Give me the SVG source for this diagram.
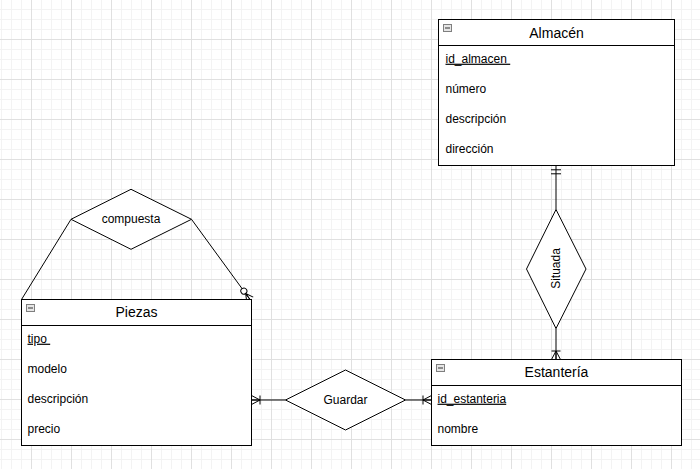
<svg xmlns="http://www.w3.org/2000/svg" width="700" height="469" viewBox="0 0 700 469">
  <defs>
    <pattern id="grid" x="0" y="0" width="40" height="40" patternUnits="userSpaceOnUse">
      <path d="M1.5,0V40M11.5,0V40M21.5,0V40M0,9.5H40M0,19.5H40M0,29.5H40" stroke="#f3f3f3" stroke-width="1" fill="none"/>
      <path d="M31.5,0V40M0,39.5H40" stroke="#e0e0e0" stroke-width="1" fill="none"/>
    </pattern>
    <marker id="oneToMany" markerUnits="userSpaceOnUse" orient="auto" refX="0" refY="0" markerWidth="20" markerHeight="20" overflow="visible">
      <path d="M-8.5,0L0,-4.5M-8.5,0L0,4.5M-8.5,0L0,0M-8.5,-4.5L-8.5,4.5" stroke="#000" stroke-width="1" fill="none"/>
    </marker>
    <marker id="mandOne" markerUnits="userSpaceOnUse" orient="auto" refX="0" refY="0" markerWidth="20" markerHeight="20" overflow="visible">
      <path d="M-4.3,-5L-4.3,5M-8.3,-5L-8.3,5" stroke="#000" stroke-width="1" fill="none"/>
    </marker>
    <marker id="zeroToMany" markerUnits="userSpaceOnUse" orient="auto" refX="0" refY="0" markerWidth="20" markerHeight="20" overflow="visible">
      <path d="M-7.4,0L0,-4M-7.4,0L0,4M-7.4,0L0,0" stroke="#000" stroke-width="1" fill="none"/>
      <circle cx="-10.4" cy="0" r="3" fill="#fff" stroke="#000" stroke-width="1"/>
    </marker>
  </defs>
  <style>
    .box { fill: #fff; stroke: #000; stroke-width: 1; }
    .sep { stroke: #000; stroke-width: 1; fill: none; }
    .rel { fill: #fff; stroke: #000; stroke-width: 1; }
    .edge { stroke: #000; stroke-width: 1; fill: none; }
    .title { font-family: "Liberation Sans", Arial, sans-serif; font-size: 14px; fill: #000; text-anchor: middle; }
    .attr { font-family: "Liberation Sans", Arial, sans-serif; font-size: 12px; fill: #000; }
    .key { text-decoration: underline; }
    .lbl { font-family: "Liberation Sans", Arial, sans-serif; font-size: 12px; fill: #000; text-anchor: middle; }
    .icon { fill: #e6e6e6; stroke: #7f7f7f; stroke-width: 1; }
    .minus { stroke: #333; stroke-width: 1; }
  </style>
  <rect x="0" y="0" width="700" height="469" fill="#fff"/>
  <rect x="0" y="0" width="700" height="469" fill="url(#grid)"/>

  <g id="connectors">
    <path class="edge" d="M71,219.3L21.5,299.5"/>
    <path class="edge" d="M191.5,219.3L250,299.5" marker-end="url(#zeroToMany)"/>
    <path class="edge" d="M285.5,400H251.5" marker-end="url(#oneToMany)"/>
    <path class="edge" d="M405.5,400H431.5" marker-end="url(#oneToMany)"/>
    <path class="edge" d="M556,209.5V165.5" marker-end="url(#mandOne)"/>
    <path class="edge" d="M556,328.5V359.5" marker-end="url(#oneToMany)"/>
  </g>

  <g id="almacen">
    <rect class="box" x="438.5" y="19.5" width="236" height="146"/>
    <path class="sep" d="M438.5,45.5H674.5"/>
    <rect class="icon" x="443.5" y="24.5" width="8" height="7"/>
    <path class="minus" d="M445,28H450"/>
    <text class="title" x="556.5" y="37.5">Almacén</text>
    <text class="attr key" x="445.5" y="62.7" xml:space="preserve">id_almacen </text>
    <text class="attr" x="445.5" y="92.7">número</text>
    <text class="attr" x="445.5" y="122.7">descripción</text>
    <text class="attr" x="445.5" y="152.7">dirección</text>
  </g>

  <g id="piezas">
    <rect class="box" x="21.5" y="299.5" width="230" height="146"/>
    <path class="sep" d="M21.5,325.5H251.5"/>
    <rect class="icon" x="26.5" y="304.5" width="8" height="7"/>
    <path class="minus" d="M28,308H33"/>
    <text class="title" x="136.5" y="317.3">Piezas</text>
    <text class="attr key" x="27.5" y="342.7" xml:space="preserve">tipo </text>
    <text class="attr" x="27.5" y="372.7">modelo</text>
    <text class="attr" x="27.5" y="402.7">descripción</text>
    <text class="attr" x="27.5" y="432.7">precio</text>
  </g>

  <g id="estanteria">
    <rect class="box" x="431.5" y="359.5" width="250" height="86"/>
    <path class="sep" d="M431.5,385.5H681.5"/>
    <rect class="icon" x="436.5" y="364.5" width="8" height="7"/>
    <path class="minus" d="M438,368H443"/>
    <text class="title" x="556.5" y="377.3">Estantería</text>
    <text class="attr key" x="437.5" y="402.7">id_estanteria</text>
    <text class="attr" x="437.5" y="432.7">nombre</text>
  </g>

  <g id="compuesta">
    <polygon class="rel" points="131,189.3 191.5,219.3 131,249.3 71,219.3"/>
    <text class="lbl" x="131" y="222.7">compuesta</text>
  </g>

  <g id="guardar">
    <polygon class="rel" points="345.5,370 405.5,400 345.5,430 285.5,400"/>
    <text class="lbl" x="345.5" y="404">Guardar</text>
  </g>

  <g id="situada">
    <polygon class="rel" points="556,209.5 586,269 556,328.5 526.5,269"/>
    <text class="lbl" transform="translate(560.3,268.5) rotate(-90)" x="0" y="0">Situada</text>
  </g>
</svg>
